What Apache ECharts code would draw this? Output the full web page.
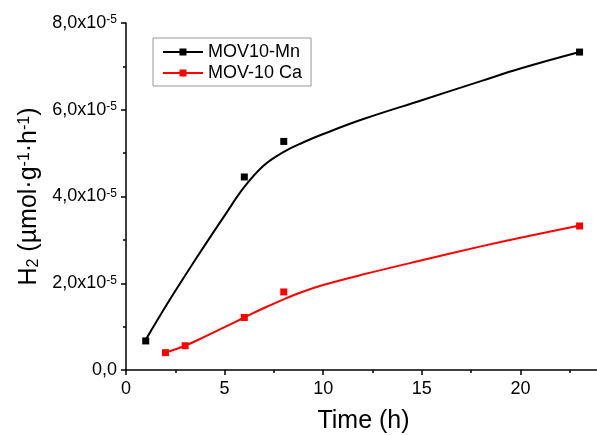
<!DOCTYPE html>
<html>
<head>
<meta charset="utf-8">
<script src="https://cdn.jsdelivr.net/npm/echarts@6/dist/echarts.min.js"></script>
<style>
  html, body { margin: 0; padding: 0; background: #fff; }
  #chart { width: 597px; height: 435px; }
</style>
</head>
<body>
<div id="chart"></div>
<script>
// values in units of 1e-5 µmol·g-1·h-1
const mnTime = [1, 6, 8, 23];
const mnH2 = [0.67, 4.45, 5.27, 7.33];
const caTime = [2, 3, 6, 8, 23];
const caH2 = [0.40, 0.56, 1.21, 1.80, 3.32];

// fitted curves
const mnFitTime = [1, 2, 3, 4, 5, 6, 7, 8, 9, 10, 12, 15, 18, 20, 23];
const mnFitH2 = [0.70, 1.46, 2.18, 2.88, 3.56, 4.22, 4.72, 5.03, 5.25, 5.44, 5.78, 6.22, 6.66, 6.95, 7.33];
const caFitTime = [2, 3, 4, 5, 6, 7, 8, 9, 10, 12, 15, 18, 20, 23];
const caFitH2 = [0.40, 0.56, 0.77, 0.99, 1.21, 1.43, 1.63, 1.81, 1.96, 2.20, 2.53, 2.85, 3.05, 3.33];

const seriesNames = ['MOV10-Mn', 'MOV-10 Ca'];
const colors = ['#000000', '#ff0000'];

const zip = (xs, ys) => xs.map((x, i) => [x, ys[i]]);
const legendIcon = 'path://M0,2.5H16.5V0H23.5V2.5H40V4.5H23.5V7H16.5V4.5H0Z';
const font = 'Liberation Sans, Arial, sans-serif';

const chart = echarts.init(document.getElementById('chart'));

chart.setOption({
  backgroundColor: '#fff',
  animation: false,
  textStyle: { fontFamily: font },
  grid: { left: 126, right: -22, top: 23, bottom: 65, containLabel: false, outerBoundsMode: 'none' },
  legend: {
    orient: 'vertical',
    left: 153,
    top: 38,
    padding: [5, 9, 4, 10],
    itemGap: 3,
    itemWidth: 40,
    itemHeight: 7,
    borderColor: '#999',
    borderWidth: 1,
    textStyle: { fontSize: 18, color: '#000', fontFamily: font },
    data: seriesNames.map(n => ({ name: n, icon: legendIcon }))
  },
  xAxis: {
    type: 'value',
    min: 0,
    max: 25,
    interval: 5,
    name: 'Time (h)',
    nameLocation: 'middle',
    nameGap: 39,
    nameTextStyle: { fontSize: 25, color: '#000', fontFamily: font, padding: [0, 18, 0, 0] },
    axisLine: { lineStyle: { color: '#000', width: 1.5 } },
    axisTick: { inside: false, length: 5, lineStyle: { color: '#000', width: 1.5 } },
    minorTick: { show: true, splitNumber: 2, length: 3, lineStyle: { color: '#000', width: 1.5 } },
    axisLabel: { fontSize: 18, color: '#000', margin: 10 },
    splitLine: { show: false }
  },
  yAxis: {
    type: 'value',
    min: 0,
    max: 8,
    interval: 2,
    name: '{t|H}{sub|2}{t| (µmol·g}{sup|-1}{t|·h}{sup|-1}{t|)}',
    nameLocation: 'middle',
    nameGap: 82,
    nameTextStyle: {
      rich: {
        t: { fontSize: 25, color: '#000', fontFamily: font },
        sub: { fontSize: 16, color: '#000', fontFamily: font, verticalAlign: 'bottom' },
        sup: { fontSize: 16, color: '#000', fontFamily: font, verticalAlign: 'top' }
      }
    },
    axisLine: { show: true, lineStyle: { color: '#000', width: 1.5 } },
    axisTick: { show: true, inside: false, length: 5, lineStyle: { color: '#000', width: 1.5 } },
    minorTick: { show: true, splitNumber: 2, length: 3, lineStyle: { color: '#000', width: 1.5 } },
    axisLabel: {
      margin: 9,
      formatter: v => v === 0 ? '{n|0,0}' : '{n|' + v.toFixed(1).replace('.', ',') + 'x10}{s|-5}',
      rich: {
        n: { fontSize: 18, color: '#000', fontFamily: font },
        s: { fontSize: 12, color: '#000', fontFamily: font, verticalAlign: 'top' }
      }
    },
    splitLine: { show: false }
  },
  series: [
    {
      name: seriesNames[0],
      type: 'line',
      data: zip(mnFitTime, mnFitH2),
      smooth: 0.4,
      showSymbol: false,
      symbol: 'none',
      lineStyle: { color: colors[0], width: 2 },
      itemStyle: { color: colors[0] },
      z: 2
    },
    {
      name: seriesNames[1],
      type: 'line',
      data: zip(caFitTime, caFitH2),
      smooth: 0.4,
      showSymbol: false,
      symbol: 'none',
      lineStyle: { color: colors[1], width: 2 },
      itemStyle: { color: colors[1] },
      z: 2
    },
    {
      name: seriesNames[0],
      type: 'scatter',
      data: zip(mnTime, mnH2),
      symbol: 'rect',
      symbolSize: 7,
      itemStyle: { color: colors[0], opacity: 1 },
      z: 3
    },
    {
      name: seriesNames[1],
      type: 'scatter',
      data: zip(caTime, caH2),
      symbol: 'rect',
      symbolSize: 7,
      itemStyle: { color: colors[1], opacity: 1 },
      z: 3
    }
  ]
});
</script>
</body>
</html>
